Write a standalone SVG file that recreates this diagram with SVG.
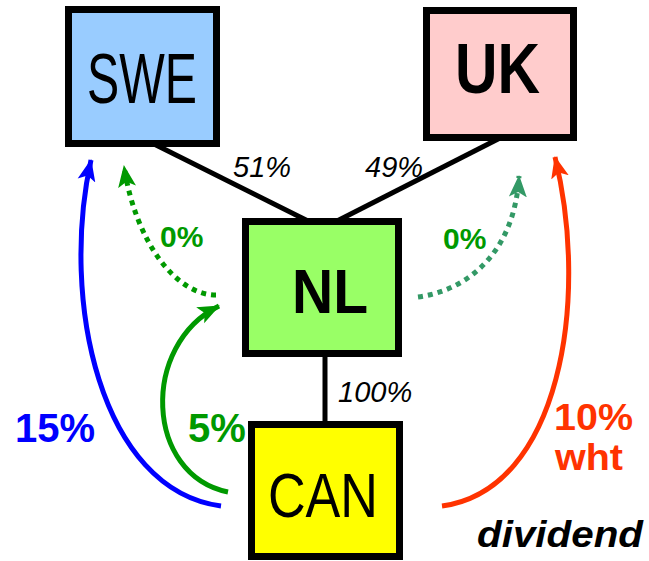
<svg xmlns="http://www.w3.org/2000/svg" width="649" height="561" viewBox="0 0 649 561">
<defs>
<style>
.box{stroke:#000;stroke-width:7}
.lbl{font-family:"Liberation Sans",Arial,sans-serif}
.big{font-size:70px}
.pct{font-size:29px;font-style:italic;fill:#000}
.bold{font-weight:bold}
.own{stroke:#000;stroke-width:5;fill:none}
.flow{fill:none;stroke-width:5}
.dot{stroke-dasharray:5 5}
</style>
<marker id="ab" markerUnits="userSpaceOnUse" markerWidth="22" markerHeight="20" viewBox="0 0 22 20" refX="21" refY="10" orient="auto"><path d="M0,1 L22,10 L0,19 L5,10 Z" fill="#0000ff"/></marker>
<marker id="ag" markerUnits="userSpaceOnUse" markerWidth="22" markerHeight="20" viewBox="0 0 22 20" refX="21" refY="10" orient="auto"><path d="M0,1 L22,10 L0,19 L5,10 Z" fill="#009900"/></marker>
<marker id="at" markerUnits="userSpaceOnUse" markerWidth="22" markerHeight="20" viewBox="0 0 22 20" refX="21" refY="10" orient="auto"><path d="M0,1 L22,10 L0,19 L5,10 Z" fill="#339966"/></marker>
<marker id="ar" markerUnits="userSpaceOnUse" markerWidth="22" markerHeight="20" viewBox="0 0 22 20" refX="21" refY="10" orient="auto"><path d="M0,1 L22,10 L0,19 L5,10 Z" fill="#ff3300"/></marker>
</defs>
<rect width="649" height="561" fill="#fff"/>
<g id="connectors">
<line class="own" x1="152" y1="143" x2="308" y2="221"/>
<line class="own" x1="502" y1="137" x2="337" y2="221"/>
<line class="own" x1="325" y1="355" x2="325" y2="424"/>
<path class="flow" stroke="#0000ff" marker-end="url(#ab)" d="M221,506 C100,490 60,300 91,160"/>
<path class="flow" stroke="#009900" marker-end="url(#ag)" d="M228,492 C145,475 140,345 219,306"/>
<path class="flow dot" stroke="#009900" marker-end="url(#ag)" d="M216,295 C175,295 135,240 124,166"/>
<path class="flow dot" stroke="#339966" marker-end="url(#at)" d="M418,297 C470,290 515,250 519,176"/>
<path class="flow" stroke="#ff3300" marker-end="url(#ar)" d="M442,506 C560,490 590,300 555,157"/>
</g>
<g id="swe">
<rect class="box" x="68.5" y="9.5" width="148" height="134" fill="#99ccff"/>
<text class="lbl big" x="87" y="103" textLength="110" lengthAdjust="spacingAndGlyphs">SWE</text>
</g>
<g id="uk">
<rect class="box" x="426.5" y="10.5" width="147" height="127" fill="#ffcccc"/>
<text class="lbl big bold" x="455" y="93" textLength="85" lengthAdjust="spacingAndGlyphs">UK</text>
</g>
<g id="nl">
<rect class="box" x="245.5" y="221.5" width="153" height="132" fill="#99ff66"/>
<text class="lbl bold" font-size="63" x="292" y="313" textLength="76" lengthAdjust="spacingAndGlyphs">NL</text>
</g>
<g id="can">
<rect class="box" x="251.5" y="424.5" width="148" height="132" fill="#ffff00"/>
<text class="lbl" font-size="63" x="268" y="517" textLength="110" lengthAdjust="spacingAndGlyphs">CAN</text>
</g>
<g id="labels">
<text class="lbl pct" x="233" y="177">51%</text>
<text class="lbl pct" x="365" y="177">49%</text>
<text class="lbl pct" x="338" y="402">100%</text>
<text class="lbl bold" font-size="30" fill="#009900" x="160" y="247">0%</text>
<text class="lbl bold" font-size="30" fill="#009900" x="443" y="249">0%</text>
<text class="lbl bold" font-size="40" fill="#0000ff" x="15" y="442">15%</text>
<text class="lbl bold" font-size="40" fill="#009900" x="188" y="442">5%</text>
<text class="lbl bold" font-size="37" fill="#ff3300" x="554" y="430" textLength="79" lengthAdjust="spacingAndGlyphs">10%</text>
<text class="lbl bold" font-size="37" fill="#ff3300" x="555" y="470" textLength="68" lengthAdjust="spacingAndGlyphs">wht</text>
<text class="lbl bold" font-size="36" font-style="italic" x="477" y="547" textLength="166" lengthAdjust="spacingAndGlyphs">dividend</text>
</g>
</svg>
